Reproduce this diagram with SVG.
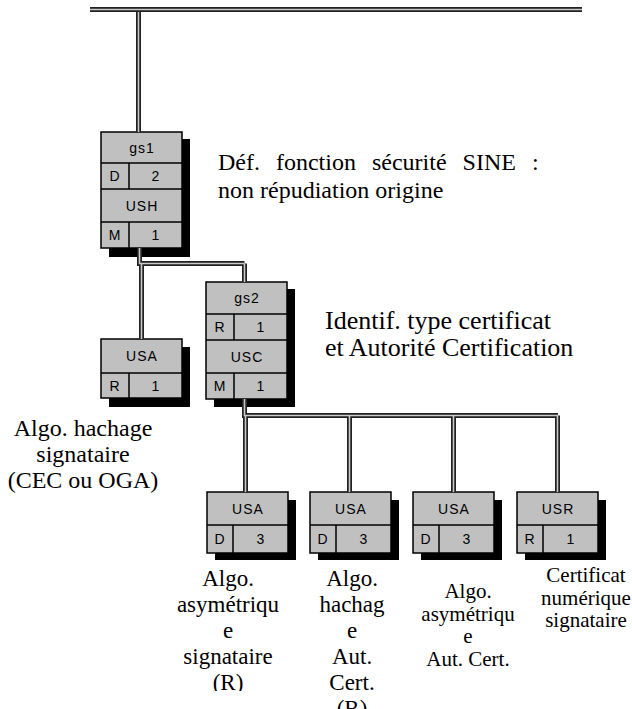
<svg xmlns="http://www.w3.org/2000/svg" width="632" height="709" viewBox="0 0 632 709">
<style>
.box{fill:#c0c0c0;stroke:#000;stroke-width:1.5}
.sh{fill:#000}
.cell{font-family:"Liberation Sans",Arial,sans-serif;font-size:14px;fill:#000;text-anchor:middle;letter-spacing:1px}
.lo{fill:none;stroke:#222;stroke-width:5}
.li{fill:none;stroke:#c8c8c8;stroke-width:1.6}
.lbl{font-family:"Liberation Serif","Times New Roman",serif;font-size:23px;fill:#000;text-anchor:middle}
.lbs{font-family:"Liberation Serif","Times New Roman",serif;font-size:21px;fill:#000;text-anchor:middle}
.note{font-family:"Liberation Serif","Times New Roman",serif;font-size:24px;fill:#000}
.note2{font-family:"Liberation Serif","Times New Roman",serif;font-size:26px;fill:#000}
</style>
<defs>
<clipPath id="c1"><rect x="150" y="560" width="160" height="131"/></clipPath>
</defs>
<g id="nodes">
<g id="gs1">
<rect class="sh" x="109" y="139" width="81" height="118"/>
<rect class="box" x="101" y="132" width="81" height="116"/>
<line x1="101" y1="163" x2="182" y2="163" stroke="#000" stroke-width="1.5"/>
<line x1="101" y1="189" x2="182" y2="189" stroke="#000" stroke-width="1.5"/>
<line x1="101" y1="222" x2="182" y2="222" stroke="#000" stroke-width="1.5"/>
<line x1="129" y1="163" x2="129" y2="189" stroke="#000" stroke-width="1.5"/>
<line x1="129" y1="222" x2="129" y2="248" stroke="#000" stroke-width="1.5"/>
<text class="cell" x="142" y="153">gs1</text>
<text class="cell" x="115" y="181">D</text>
<text class="cell" x="156" y="181">2</text>
<text class="cell" x="142" y="211">USH</text>
<text class="cell" x="115" y="240">M</text>
<text class="cell" x="156" y="240">1</text>
</g>
<g id="usa0">
<rect class="sh" x="109" y="347" width="81" height="60"/>
<rect class="box" x="101" y="339" width="81" height="59"/>
<line x1="101" y1="373" x2="182" y2="373" stroke="#000" stroke-width="1.5"/>
<line x1="129" y1="373" x2="129" y2="398" stroke="#000" stroke-width="1.5"/>
<text class="cell" x="142" y="361">USA</text>
<text class="cell" x="115" y="391">R</text>
<text class="cell" x="156" y="391">1</text>
</g>
<g id="gs2">
<rect class="sh" x="214" y="289" width="81" height="118"/>
<rect class="box" x="206" y="282" width="81" height="117"/>
<line x1="206" y1="314" x2="287" y2="314" stroke="#000" stroke-width="1.5"/>
<line x1="206" y1="340" x2="287" y2="340" stroke="#000" stroke-width="1.5"/>
<line x1="206" y1="373" x2="287" y2="373" stroke="#000" stroke-width="1.5"/>
<line x1="234" y1="314" x2="234" y2="340" stroke="#000" stroke-width="1.5"/>
<line x1="234" y1="373" x2="234" y2="399" stroke="#000" stroke-width="1.5"/>
<text class="cell" x="247" y="303">gs2</text>
<text class="cell" x="220" y="332">R</text>
<text class="cell" x="261" y="332">1</text>
<text class="cell" x="247" y="362">USC</text>
<text class="cell" x="220" y="391">M</text>
<text class="cell" x="261" y="391">1</text>
</g>
<g id="usa1">
<rect class="sh" x="215" y="500" width="81" height="60"/>
<rect class="box" x="207" y="492" width="81" height="61"/>
<line x1="207" y1="525" x2="288" y2="525" stroke="#000" stroke-width="1.5"/>
<line x1="233" y1="525" x2="233" y2="553" stroke="#000" stroke-width="1.5"/>
<text class="cell" x="248" y="514">USA</text>
<text class="cell" x="220" y="544">D</text>
<text class="cell" x="261" y="544">3</text>
</g>
<g id="usa2">
<rect class="sh" x="318" y="500" width="81" height="60"/>
<rect class="box" x="310" y="492" width="81" height="61"/>
<line x1="310" y1="525" x2="391" y2="525" stroke="#000" stroke-width="1.5"/>
<line x1="336" y1="525" x2="336" y2="553" stroke="#000" stroke-width="1.5"/>
<text class="cell" x="351" y="514">USA</text>
<text class="cell" x="323" y="544">D</text>
<text class="cell" x="364" y="544">3</text>
</g>
<g id="usa3">
<rect class="sh" x="421" y="500" width="81" height="60"/>
<rect class="box" x="413" y="492" width="81" height="61"/>
<line x1="413" y1="525" x2="494" y2="525" stroke="#000" stroke-width="1.5"/>
<line x1="439" y1="525" x2="439" y2="553" stroke="#000" stroke-width="1.5"/>
<text class="cell" x="454" y="514">USA</text>
<text class="cell" x="426" y="544">D</text>
<text class="cell" x="467" y="544">3</text>
</g>
<g id="usr">
<rect class="sh" x="525" y="500" width="81" height="60"/>
<rect class="box" x="517" y="492" width="81" height="61"/>
<line x1="517" y1="525" x2="598" y2="525" stroke="#000" stroke-width="1.5"/>
<line x1="543" y1="525" x2="543" y2="553" stroke="#000" stroke-width="1.5"/>
<text class="cell" x="558" y="514">USR</text>
<text class="cell" x="530" y="544">R</text>
<text class="cell" x="571" y="544">1</text>
</g>
</g>
<g id="connectors">
<path class="lo" d="M90,9.5 H582" stroke-width="6"/>
<path class="lo" d="M138.5,9 V132 M139.5,248 V263.5 H244.5 M141.5,263.5 V339 M244.5,263.5 V282 M244.5,399 V415.5 H558 M245.5,415.5 V492 M349.5,415.5 V492 M453.5,415.5 V492 M557.5,415.5 V492"/>
<path class="li" d="M90,9.5 H582"/>
<path class="li" d="M138.5,12 V132 M139.5,248 V263.5 H244.5 M141.5,263.5 V339 M244.5,263.5 V282 M244.5,399 V415.5 H558 M245.5,415.5 V492 M349.5,415.5 V492 M453.5,415.5 V492 M557.5,415.5 V492"/>
</g>
<g id="labels">
<text class="note" x="218" y="170" word-spacing="10">Déf. fonction sécurité SINE :</text>
<text class="note" x="218" y="198">non répudiation origine</text>
<text class="note2" x="325" y="329">Identif. type certificat</text>
<text class="note2" x="325" y="356">et Autorité Certification</text>
<text class="lbl" x="83" y="436" style="font-size:24px">Algo. hachage</text>
<text class="lbl" x="83" y="462" style="font-size:24px">signataire</text>
<text class="lbl" x="83" y="488" style="font-size:24px">(CEC ou OGA)</text>
<g clip-path="url(#c1)">
<text class="lbl" x="228" y="586">Algo.</text>
<text class="lbl" x="228" y="612">asymétriqu</text>
<text class="lbl" x="228" y="638">e</text>
<text class="lbl" x="228" y="664">signataire</text>
<text class="lbl" x="228" y="690">(R)</text>
</g>
<text class="lbl" x="352" y="586">Algo.</text>
<text class="lbl" x="352" y="612">hachag</text>
<text class="lbl" x="352" y="638">e</text>
<text class="lbl" x="352" y="664">Aut.</text>
<text class="lbl" x="352" y="690">Cert.</text>
<text class="lbl" x="352" y="716">(R)</text>
<text class="lbs" x="468" y="598">Algo.</text>
<text class="lbs" x="468" y="621">asymétriqu</text>
<text class="lbs" x="468" y="643">e</text>
<text class="lbs" x="468" y="666">Aut. Cert.</text>
<text class="lbs" x="586" y="582">Certificat</text>
<text class="lbs" x="586" y="605">numérique</text>
<text class="lbs" x="586" y="627">signataire</text>
</g>
</svg>
